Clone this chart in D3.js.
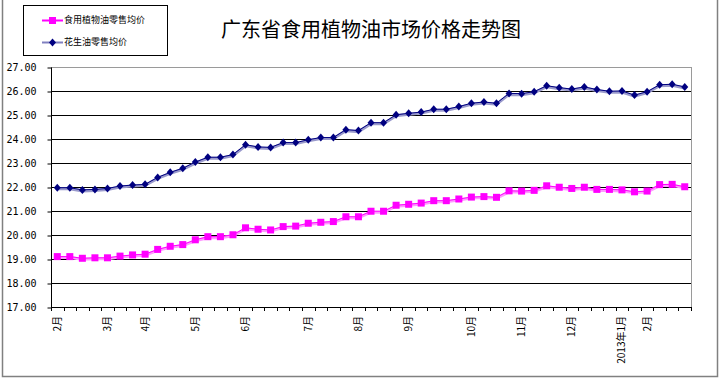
<!DOCTYPE html>
<html><head><meta charset="utf-8">
<script src="https://cdn.jsdelivr.net/npm/d3@7"></script>
<style>body{margin:0;background:#fff}svg{display:block}</style>
</head><body>
<svg id="c" width="720" height="385"></svg>
<script>
const title = "广东省食用植物油市场价格走势图";
const seriesNames = ["食用植物油零售均价", "花生油零售均价"];
const categories = ["2月","","","","3月","","","4月","","","","5月","","","","6月","","","","","7月","","","","8月","","","","9月","","","","","10月","","","","11月","","","","12月","","","","2013年1月","","2月","","",""];
const edibleOil = [19.10,19.10,19.03,19.05,19.05,19.12,19.17,19.20,19.40,19.53,19.60,19.80,19.93,19.93,20.01,20.30,20.24,20.21,20.35,20.37,20.49,20.53,20.56,20.76,20.76,20.99,20.99,21.24,21.28,21.33,21.43,21.43,21.50,21.58,21.60,21.57,21.84,21.83,21.86,22.05,21.99,21.94,21.99,21.90,21.90,21.88,21.80,21.83,22.10,22.11,22.01];
const peanutOil = [21.97,21.97,21.88,21.90,21.94,22.04,22.08,22.11,22.40,22.61,22.78,23.04,23.24,23.24,23.35,23.76,23.67,23.65,23.85,23.85,23.97,24.06,24.06,24.39,24.35,24.68,24.68,25.01,25.07,25.12,25.24,25.24,25.35,25.49,25.54,25.49,25.90,25.89,25.97,26.22,26.14,26.08,26.17,26.06,25.99,26.00,25.83,25.97,26.26,26.28,26.17];
const yTicks = [17,18,19,20,21,22,23,24,25,26,27];

const svg = d3.select("#c");
const L = 51, R = 691, T = 67, B = 307;
const idx = categories.map((d,i)=>i);
const x = d3.scaleBand().domain(idx).range([L,R]).padding(0);
const y = d3.scaleLinear().domain([17,27]).range([B,T]);
const cx = i => x(i) + x.bandwidth()/2;

// outer frame
svg.append("rect").attr("x",2.5).attr("y",-2).attr("width",715).attr("height",378.5)
  .attr("fill","#fff").attr("stroke","#808080").attr("stroke-width",1.5);

// plot area border
svg.append("rect").attr("x",L+0.5).attr("y",T+0.5).attr("width",R-L).attr("height",B-T)
  .attr("fill","none").attr("stroke","#9a9a9a").attr("stroke-width",1);

// gridlines
svg.append("g").selectAll("line").data(yTicks.filter(v=>v>17 && v<27)).join("line")
  .attr("x1",L).attr("x2",R).attr("y1",d=>Math.round(y(d))+0.5).attr("y2",d=>Math.round(y(d))+0.5)
  .attr("stroke","#000").attr("stroke-width",1);

// y axis
const yAxis = svg.append("g").attr("transform",`translate(${L+0.5},0.5)`)
  .call(d3.axisLeft(y).tickValues(yTicks).tickFormat(d3.format(".2f")).tickSize(4).tickPadding(11));
yAxis.select(".domain").attr("stroke","#000").attr("d",`M-0,${T}V${B}`);
yAxis.selectAll("text").attr("font-family","DejaVu Sans Mono, Liberation Mono, monospace").attr("font-size","10px").attr("fill","#000");

// x axis line and boundary ticks
svg.append("line").attr("x1",L).attr("x2",R+1).attr("y1",B+0.5).attr("y2",B+0.5).attr("stroke","#000");
svg.append("g").selectAll("line").data(idx.concat([idx.length])).join("line")
  .attr("x1",d=>Math.round(d<idx.length? x(d): x(idx.length-1)+x.bandwidth())+0.5)
  .attr("x2",d=>Math.round(d<idx.length? x(d): x(idx.length-1)+x.bandwidth())+0.5)
  .attr("y1",B).attr("y2",B+4).attr("stroke","#000");

const xAxis = svg.append("g").attr("transform",`translate(0,${B})`)
  .call(d3.axisBottom(x).tickValues(idx.filter(i=>categories[i]!=="")).tickFormat(i=>categories[i]).tickSize(0));
xAxis.select(".domain").remove();
xAxis.selectAll("text")
  .attr("font-family","Noto Sans CJK SC, sans-serif").attr("font-size","10px").attr("fill","#000")
  .attr("text-anchor","end").attr("dy","0.35em")
  .attr("transform","translate(0,9) rotate(-90)").attr("x",0).attr("y",0);

// lines
const line = d3.line().x((d,i)=>cx(i)).y(d=>y(d));
function drawSeries(data, light, dark, marker){
  svg.append("path").datum(data).attr("d",line).attr("fill","none")
    .attr("stroke",light).attr("stroke-width",3).attr("transform","translate(0,1)");
  svg.append("path").datum(data).attr("d",line).attr("fill","none")
    .attr("stroke",dark).attr("stroke-width",1);
  const g = svg.append("g");
  if(marker==="square"){
    g.selectAll("rect").data(data).join("rect")
      .attr("x",(d,i)=>cx(i)-3.5).attr("y",d=>y(d)-3.5).attr("width",7).attr("height",7).attr("fill",dark);
  } else {
    g.selectAll("path").data(data).join("path")
      .attr("d",(d,i)=>{const X=cx(i),Y=y(d);return `M${X},${Y-4}L${X+3.5},${Y}L${X},${Y+4}L${X-3.5},${Y}Z`;})
      .attr("fill",dark);
  }
}
drawSeries(edibleOil,"#ff99ff","#ff00ff","square");
drawSeries(peanutOil,"#9999cc","#000080","diamond");

// title
svg.append("text").attr("x",371).attr("y",30).attr("dy","0.35em").attr("text-anchor","middle")
  .attr("font-family","Noto Sans CJK SC, sans-serif").attr("font-size","20px").attr("fill","#000").text(title);

// legend
const lg = svg.append("g");
lg.append("rect").attr("x",23.5).attr("y",5.5).attr("width",144).attr("height",50).attr("fill","#fff").attr("stroke","#000");
const legendItems = [{name:seriesNames[0],light:"#ff00ff",dark:"#ff00ff",m:"square",yy:20},
                     {name:seriesNames[1],light:"#8080c0",dark:"#000080",m:"diamond",yy:42}];
legendItems.forEach(it=>{
  lg.append("line").attr("x1",42).attr("x2",63).attr("y1",it.yy+0.5).attr("y2",it.yy+0.5).attr("stroke",it.light).attr("stroke-width",2);
  if(it.m==="square") lg.append("rect").attr("x",49).attr("y",it.yy-3).attr("width",7).attr("height",7).attr("fill",it.dark);
  else lg.append("path").attr("d",`M52.5,${it.yy-3.5}L56,${it.yy+0.5}L52.5,${it.yy+4.5}L49,${it.yy+0.5}Z`).attr("fill",it.dark);
  lg.append("text").attr("x",64).attr("y",it.yy).attr("dy","0.35em").attr("font-family","Noto Sans CJK SC, sans-serif")
    .attr("font-size","9px").attr("fill","#000").text(it.name);
});
</script>
</body></html>
